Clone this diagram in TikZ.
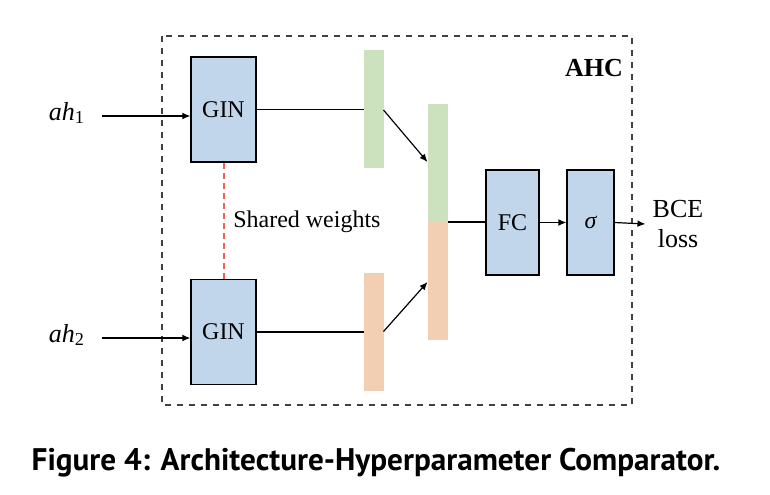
\documentclass[tikz,border=0pt]{standalone}
\usepackage{fontspec}
\setmainfont{Liberation Serif}
\newfontfamily\captionfont{PT Sans}
\usetikzlibrary{calc}
\usetikzlibrary{positioning}
\usetikzlibrary{arrows.meta}

\definecolor{boxblue}{HTML}{C2D6EB}
\definecolor{featgreen}{HTML}{CCE2BE}
\definecolor{featorange}{HTML}{F2CEB2}
\definecolor{sharedred}{RGB}{240,100,85}

\begin{document}
\begin{tikzpicture}[%
  x=0.5pt, y=-0.5pt,
  >={Latex[length=4pt,width=3.4pt]},
  semithick,
  every node/.style={font=\fontsize{12}{14}\selectfont},
  block/.style={rectangle,
                fill=boxblue,
                draw,
                inner sep=0pt,
                minimum width=32.5pt,
                minimum height=52.5pt
  },
  feat/.style={rectangle,
               inner sep=0pt,
               outer sep=0pt,
               minimum width=10pt,
               minimum height=59pt
  }
]
\useasboundingbox (0,0) rectangle (770,494);

% outer frame
\draw [dashed, thick, black!75] (162,36) rectangle (632,405);
\node [font=\fontsize{13}{15}\selectfont\bfseries] (ahc) at (594,68) {AHC};

% the two encoders
\node [block] (gin1) at (223.5,109.5) {GIN};
\node [block] (gin2) at (223.5,332) {GIN};
\node (ah1) at (67,113) {\fontsize{13}{15}\selectfont\itshape ah\textsubscript{\upshape 1}};
\node (ah2) at (67,335) {\fontsize{13}{15}\selectfont\itshape ah\textsubscript{\upshape 2}};
\draw [->] (ah1.east) ++(5pt,-1.5pt) coordinate (in1) -- (in1 -| gin1.west);
\draw [->] (ah2.east) ++(5pt,-1.5pt) coordinate (in2) -- (in2 -| gin2.west);

\draw [draw=sharedred, line width=1pt, dash pattern=on 3pt off 2pt] (gin1.south) -- (gin2.north);
\node [anchor=west] (shared) at (226,222) {Shared weights};

% graph embeddings
\node [feat, fill=featgreen] (emb1) at (373.5,109) {};
\node [feat, fill=featorange] (emb2) at (373.5,331.5) {};
\draw (gin1.east) -- (gin1.east -| emb1.west);
\draw (gin2.east) -- (gin2.east -| emb2.west);

% concatenation
\node [feat, fill=featgreen, anchor=south] (cat1) at (437.5,222) {};
\node [feat, fill=featorange, anchor=north] (cat2) at (437.5,222) {};
\coordinate (catmid) at (cat1.south east);
\draw [->] (emb1.east) ++(0,1) -- ($(cat1.west)+(0,-1)$);
\draw [->] (emb2.east) -- ($(cat2.north west)+(0,60)$);

% classifier
\node [block, minimum width=26.5pt] (fc) at (512.5,222.5) {FC};
\node [block, minimum width=23.5pt] (sig) at (590.5,222.5) {\itshape σ};
\node [align=center, font=\fontsize{13}{15}\selectfont] (loss) at (678,224) {BCE\\loss};
\draw (catmid) -- (catmid -| fc.west);
\draw [->] (fc.east) -- (sig.west);
\draw [->] (sig.east) -- (loss.west);

\node [font=\fontsize{15.6}{18}\selectfont\captionfont\bfseries] (caption) at (376,463)
  {Figure 4: Architecture-Hyperparameter Comparator.};
\end{tikzpicture}
\end{document}
